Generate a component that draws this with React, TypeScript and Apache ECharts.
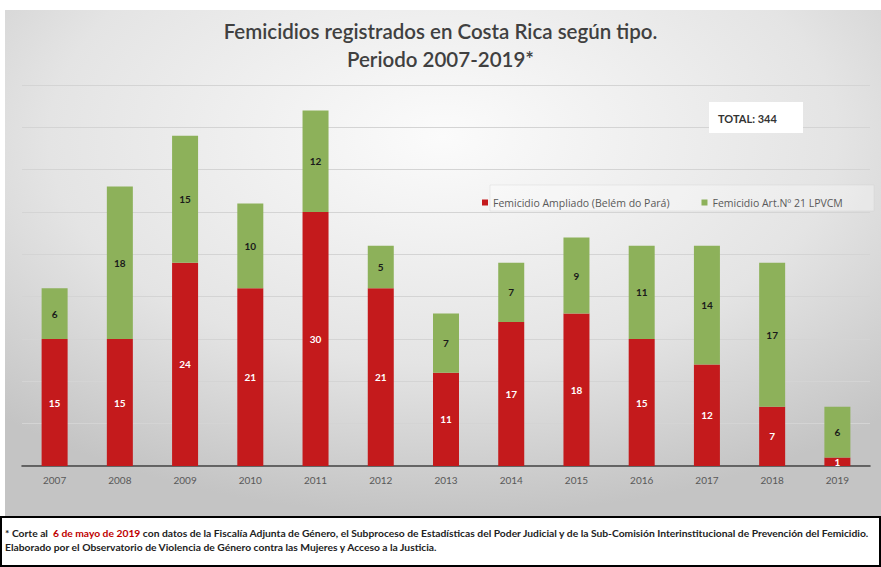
import React, { useEffect, useRef } from "react";
import * as echarts from "echarts";

const years = ["2007", "2008", "2009", "2010", "2011", "2012", "2013", "2014", "2015", "2016", "2017", "2018", "2019"];
const ampliado = [15, 15, 24, 21, 30, 21, 11, 17, 18, 15, 12, 7, 1];
const articulo21 = [6, 18, 15, 10, 12, 5, 7, 7, 9, 11, 14, 17, 6];
const seriesNames = ["Femicidio Ampliado (Belém do Pará)", "Femicidio Art.Nº 21 LPVCM"];
const titleLines = ["Femicidios registrados en Costa Rica según tipo.", "Periodo 2007-2019*"];
const totalLabel = "TOTAL: 344";

export default function App() {
  const ref = useRef<HTMLDivElement>(null);
  useEffect(() => {
    if (!ref.current) return;
    const chart = echarts.init(ref.current, undefined, { renderer: "svg" });
    const font = "Lato, 'Open Sans', sans-serif";
    chart.setOption({
      animation: false,
      textStyle: { fontFamily: font },
      title: {
        text: titleLines.join("\n"),
        left: "center",
        top: 12,
        textStyle: { fontSize: 20.5, fontWeight: 600, color: "#404040", lineHeight: 28, fontFamily: font },
      },
      legend: {
        left: 477,
        top: 192,
        itemWidth: 6,
        itemHeight: 6,
        itemGap: 32,
        icon: "rect",
        textStyle: { fontSize: 10.5, color: "#595959", fontFamily: "'Open Sans', sans-serif" },
        data: seriesNames,
      },
      grid: { left: 22, right: 11, top: 85, bottom: 101 },
      xAxis: {
        type: "category",
        data: years,
        axisLine: { lineStyle: { color: "#404040", width: 1.5 } },
        axisTick: { show: false },
        axisLabel: { fontSize: 10, color: "#595959", margin: 9, fontFamily: font },
      },
      yAxis: {
        type: "value",
        min: 0,
        max: 45,
        interval: 5,
        axisLabel: { show: false },
        axisLine: { show: false },
        axisTick: { show: false },
        splitLine: { lineStyle: { color: "#d4d4d4", width: 1 } },
      },
      graphic: [
        {
          type: "rect",
          z: -10,
          shape: { x: 5, y: 10, width: 876, height: 506 },
          style: {
            fill: new echarts.graphic.RadialGradient(0.5, 0.25, 0.75, [
              { offset: 0, color: "#fbfbfb" },
              { offset: 0.6, color: "#e4e4e4" },
              { offset: 1, color: "#c4c4c4" },
            ]),
          },
        },
        {
          type: "rect",
          z: -5,
          shape: { x: 490, y: 185, width: 384, height: 26 },
          style: { fill: "rgba(255,255,255,0.3)", stroke: "rgba(200,200,200,0.6)", lineWidth: 0.5 },
        },
        {
          type: "rect",
          z: 5,
          shape: { x: 709, y: 102, width: 94, height: 31 },
          style: { fill: "#ffffff" },
        },
        {
          type: "text",
          z: 6,
          x: 718,
          y: 118,
          style: { text: totalLabel, fontSize: 11, fontWeight: "bold", fill: "#333333", fontFamily: font, verticalAlign: "middle" },
        },
        {
          type: "rect",
          z: 5,
          shape: { x: 1, y: 517, width: 879, height: 49 },
          style: { fill: "#ffffff", stroke: "#000000", lineWidth: 2 },
        },
        {
          type: "text",
          z: 6,
          x: 5,
          y: 526,
          style: {
            text:
              "{k|* Corte al  }{r|6 de mayo de 2019}{k| con datos de la Fiscalía Adjunta de Género, el Subproceso de Estadísticas del Poder Judicial y de la Sub-Comisión Interinstitucional de Prevención del Femicidio.}\n{k|Elaborado por el Observatorio de Violencia de Género contra las Mujeres y Acceso a la Justicia.}",
            fontSize: 10.3,
            fontWeight: "bold",
            fill: "#222222",
            fontFamily: font,
            lineHeight: 14,
            rich: {
              k: { fill: "#222222", fontSize: 10.3, fontWeight: "bold", fontFamily: font, lineHeight: 14 },
              r: { fill: "#c00000", fontSize: 10.3, fontWeight: "bold", fontFamily: font, lineHeight: 14 },
            },
          },
        },
      ],
      series: [
        {
          name: seriesNames[0],
          type: "bar",
          stack: "total",
          data: ampliado,
          barWidth: 26,
          itemStyle: { color: "#C41A1C" },
          label: { show: true, position: "inside", color: "#ffffff", fontSize: 10, fontWeight: "bold", fontFamily: font },
        },
        {
          name: seriesNames[1],
          type: "bar",
          stack: "total",
          data: articulo21,
          barWidth: 26,
          itemStyle: { color: "#8DB15A" },
          label: { show: true, position: "inside", color: "#1a1a1a", fontSize: 10, fontWeight: "bold", fontFamily: font },
        },
      ],
    });
    return () => chart.dispose();
  }, []);
  return <div ref={ref} style={{ position: "fixed", left: 0, top: 0, width: 881, height: 567, background: "#ffffff" }} />;
}
